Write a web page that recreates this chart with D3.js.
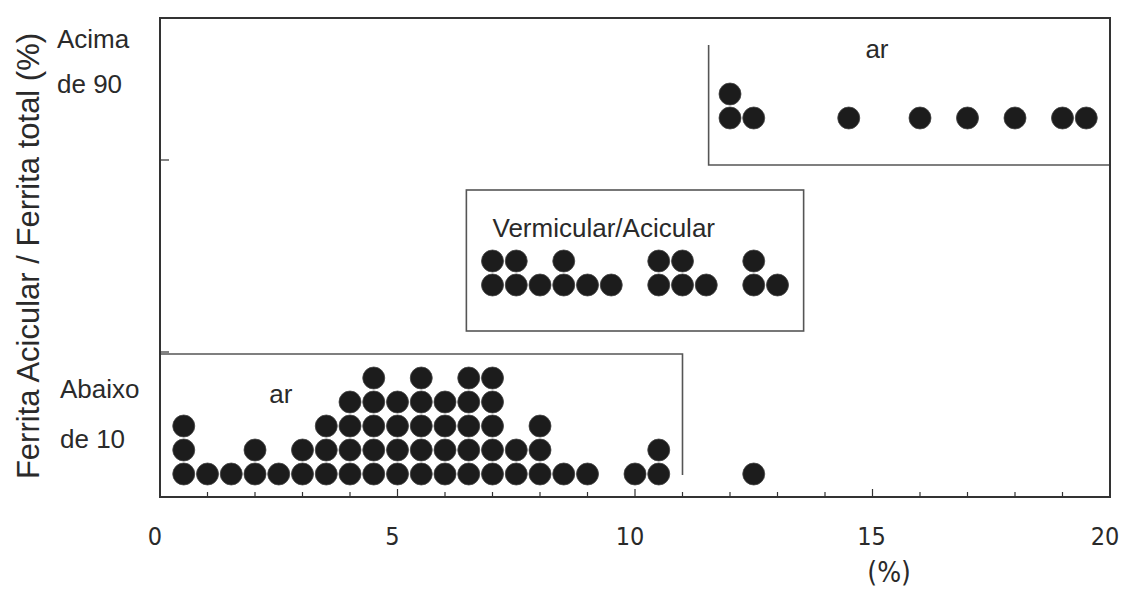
<!DOCTYPE html>
<html>
<head>
<meta charset="utf-8">
<script src="https://cdn.jsdelivr.net/npm/d3@7"></script>
<style>
  body { margin: 0; background: #fff; }
  svg text { font-family: "Liberation Sans", Arial, sans-serif; fill: #2a2a2a; }
  .tick-label { font-family: "Liberation Sans Narrow", "DejaVu Sans Condensed", sans-serif; }
</style>
</head>
<body>
<svg id="chart" width="1121" height="590"></svg>
<script>
// x values (%) with number of stacked dots at each value
var lowDots = [[0.5,3],[1,1],[1.5,1],[2,2],[2.5,1],[3,2],[3.5,3],[4,4],[4.5,5],[5,4],[5.5,5],
               [6,4],[6.5,5],[7,5],[7.5,2],[8,3],[8.5,1],[9,1],[10,1],[10.5,2],[12.5,1]];
var midDots = [[7,2],[7.5,2],[8,1],[8.5,2],[9,1],[9.5,1],[10.5,2],[11,2],[11.5,1],[12.5,2],[13,1]];
var highDots = [[12,2],[12.5,1],[14.5,1],[16,1],[17,1],[18,1],[19,1],[19.5,1]];

var groups = ['low', 'mid', 'high'];
var groupLabels = ['ar', 'Vermicular/Acicular', 'ar'];
var yCatLabels = [['Abaixo', 'de 10'], ['Acima', 'de 90']];
var xTicks = [0, 5, 10, 15, 20];
var xTitle = '(%)';
var yTitle = 'Ferrita Acicular / Ferrita total (%)';

var margin = {left: 160, right: 11, top: 18, bottom: 93},
    width = 1121,
    height = 590;

var svg = d3.select('#chart');

var x = d3.scaleLinear().domain([0, 20]).range([margin.left, width - margin.right]);
var yBase = d3.scaleOrdinal().domain(groups).range([474, 285, 118]);
var row = d3.scaleLinear().domain([0, 1]).range([0, -24]);
var r = 11;

var plotBottom = height - margin.bottom;

// group boxes
var g = svg.append('g');
// bottom box: top line and right side
g.append('path')
    .attr('d', 'M' + x(0) + ',354 H' + x(11) + ' V475')
    .attr('fill', 'none').attr('stroke', '#555').attr('stroke-width', 1.6);
// middle box
g.append('rect')
    .attr('x', x(6.45)).attr('y', 190)
    .attr('width', x(13.55) - x(6.45)).attr('height', 141)
    .attr('fill', 'none').attr('stroke', '#555').attr('stroke-width', 1.6);
// top box: left side and bottom line
g.append('path')
    .attr('d', 'M' + x(11.55) + ',45 V165 H' + x(20))
    .attr('fill', 'none').attr('stroke', '#555').attr('stroke-width', 1.6);

// group labels
g.append('text').attr('x', x(2.3)).attr('y', 403).attr('font-size', 26).text(groupLabels[0]);
g.append('text').attr('x', x(7.0)).attr('y', 237).attr('font-size', 26).text(groupLabels[1]);
g.append('text').attr('x', x(14.85)).attr('y', 58).attr('font-size', 26).text(groupLabels[2]);

// dots
function expand(arr, grp) {
    var out = [];
    arr.forEach(function(d) {
        for (var k = 0; k < d[1]; k++) out.push({v: d[0], k: k, g: grp});
    });
    return out;
}
var allDots = expand(lowDots, 'low').concat(expand(midDots, 'mid'), expand(highDots, 'high'));

svg.append('g').selectAll('circle')
    .data(allDots)
    .enter().append('circle')
    .attr('cx', function(d) { return x(d.v); })
    .attr('cy', function(d) { return yBase(d.g) + row(d.k); })
    .attr('r', r)
    .attr('fill', '#1c1c1c')
    .attr('stroke', '#444')
    .attr('stroke-width', 0.8);

// frame
svg.append('rect')
    .attr('x', x(0)).attr('y', margin.top)
    .attr('width', x(20) - x(0)).attr('height', plotBottom - margin.top)
    .attr('fill', 'none').attr('stroke', '#333').attr('stroke-width', 2);

// x ticks (inside, minor every 1)
var minor = d3.range(1, 20);
svg.append('g').selectAll('line')
    .data(minor)
    .enter().append('line')
    .attr('x1', function(d) { return x(d); })
    .attr('x2', function(d) { return x(d); })
    .attr('y1', plotBottom)
    .attr('y2', function(d) { return plotBottom - (d % 5 === 0 ? 8 : 5); })
    .attr('stroke', '#333').attr('stroke-width', 1.2);

svg.append('g').selectAll('text')
    .data(xTicks)
    .enter().append('text')
    .attr('class', 'tick-label')
    .attr('x', function(d) { return x(d) - (d === 15 ? 1 : 5); })
    .attr('y', 545)
    .attr('text-anchor', 'middle')
    .attr('font-size', 25)
    .attr('fill', '#333')
    .text(function(d) { return d; });

svg.append('text')
    .attr('class', 'tick-label')
    .attr('x', x(15.35)).attr('y', 582)
    .attr('text-anchor', 'middle')
    .attr('font-size', 28)
    .text(xTitle);

// y ticks on left frame
[160, 352].forEach(function(yy) {
    svg.append('line')
        .attr('x1', x(0)).attr('x2', x(0) + 9)
        .attr('y1', yy).attr('y2', yy)
        .attr('stroke', '#333').attr('stroke-width', 1.2);
});

// y category labels
var catPos = [{x: 60, y: [398, 448]}, {x: 57, y: [48, 93]}];
yCatLabels.forEach(function(lines, i) {
    lines.forEach(function(t, j) {
        svg.append('text')
            .attr('x', catPos[i].x).attr('y', catPos[i].y[j])
            .attr('font-size', 26)
            .text(t);
    });
});

// y title
svg.append('text')
    .attr('transform', 'translate(39,256) rotate(-90)')
    .attr('text-anchor', 'middle')
    .attr('font-size', 31)
    .attr('fill', '#333')
    .text(yTitle);
</script>
</body>
</html>
